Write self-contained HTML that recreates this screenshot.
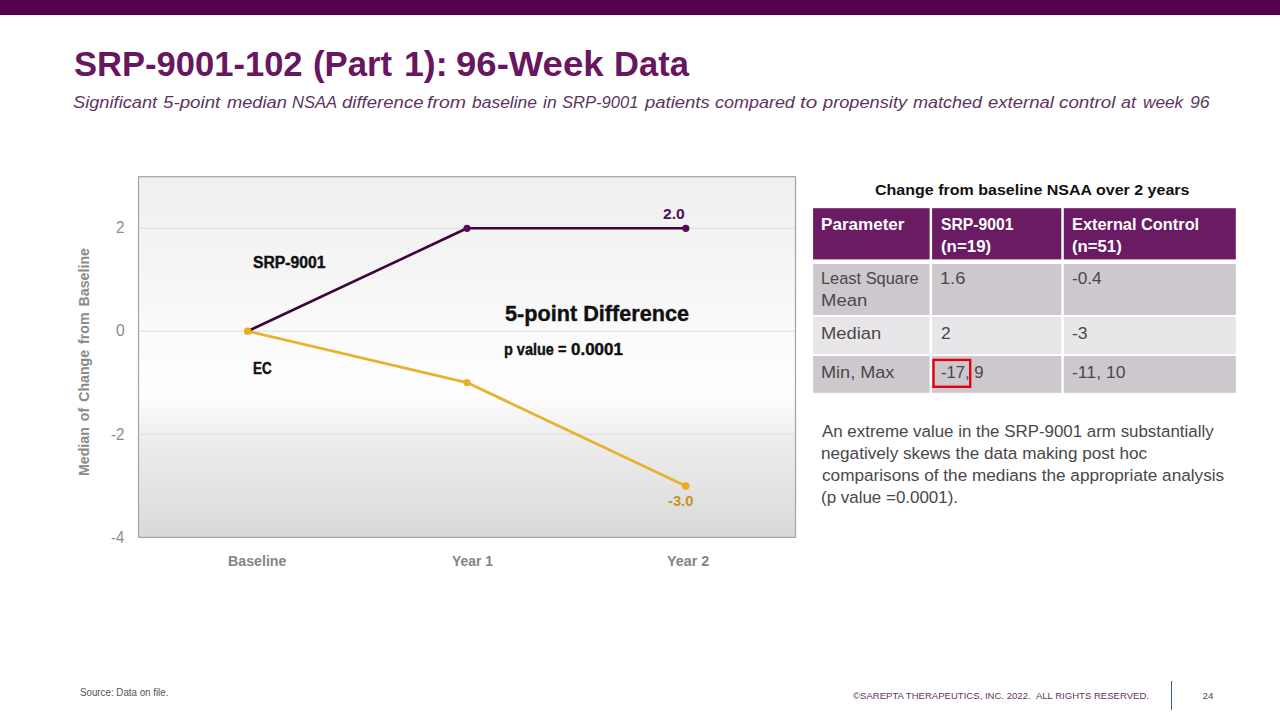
<!DOCTYPE html>
<html><head><meta charset="utf-8"><title>SRP-9001-102 (Part 1): 96-Week Data</title>
<style>
html,body{margin:0;padding:0;background:#fff;}
body{width:1280px;height:720px;position:relative;overflow:hidden;font-family:"Liberation Sans",sans-serif;}
.t{position:absolute;white-space:pre;line-height:1;transform-origin:0 0;font-family:"Liberation Sans",sans-serif;}
.b{position:absolute;}
.hd{background:#6b1b63;}
.ra{background:#cdc8cd;}
.rb{background:#e8e6e8;}
</style></head><body>
<div class="b" style="left:0;top:0;width:1280px;height:14.7px;background:#57004f"></div>

<!-- chart -->
<svg class="b" style="left:0;top:0" width="1280" height="720" viewBox="0 0 1280 720">
<defs>
<linearGradient id="pg" x1="0" y1="0" x2="0" y2="1">
<stop offset="0" stop-color="#efefef"/>
<stop offset="0.25" stop-color="#f5f5f5"/>
<stop offset="0.56" stop-color="#fefefe"/>
<stop offset="0.61" stop-color="#fdfdfd"/>
<stop offset="0.72" stop-color="#eeeeee"/>
<stop offset="1" stop-color="#d9d9d9"/>
</linearGradient>
</defs>
<rect x="138.5" y="176.7" width="657" height="360.6" fill="url(#pg)" stroke="#a3a3a3" stroke-width="1.2"/>
<g stroke="#dcdcdc" stroke-width="1">
<line x1="138.6" x2="795" y1="228.3" y2="228.3"/>
<line x1="138.6" x2="795" y1="331.2" y2="331.2"/>
<line x1="138.6" x2="795" y1="434.2" y2="434.2"/>
</g>
<polyline points="247.7,331.2 467,382.6 685.8,486" fill="none" stroke="#e8b22e" stroke-width="2.8" stroke-linejoin="round" stroke-linecap="round"/>
<polyline points="247.7,331.2 467,228.3 685.8,228.3" fill="none" stroke="#3b0639" stroke-width="2.6" stroke-linejoin="round" stroke-linecap="round"/>
<circle cx="467" cy="228.3" r="3.6" fill="#580a58"/>
<circle cx="685.8" cy="228.3" r="3.6" fill="#580a58"/>
<circle cx="247.7" cy="331.2" r="3.8" fill="#e9ae26"/>
<circle cx="467" cy="382.6" r="3.6" fill="#e9ae26"/>
<circle cx="685.8" cy="486" r="3.8" fill="#eeaa1e"/>
</svg>
<span id="yt" class="t" style="left:0;top:0;font-size:14.2px;font-weight:bold;color:#8a8a8a;word-spacing:2px;transform-origin:0 0;transform:translate(77px,476px) rotate(-90deg);">Median of Change from Baseline</span>

<!-- table -->
<svg class="b" style="left:0;top:0" width="1280" height="720">
<rect x="813.1" y="208.2" width="116.5" height="51.2" fill="#6b1b63"/>
<rect x="932.1" y="208.2" width="129.2" height="51.2" fill="#6b1b63"/>
<rect x="1063.8" y="208.2" width="172.0" height="51.2" fill="#6b1b63"/>
<rect x="813.1" y="264.0" width="116.5" height="51.0" fill="#cdc8cd"/>
<rect x="932.1" y="264.0" width="129.2" height="51.0" fill="#cdc8cd"/>
<rect x="1063.8" y="264.0" width="172.0" height="51.0" fill="#cdc8cd"/>
<rect x="813.1" y="316.9" width="116.5" height="37.3" fill="#e8e6e8"/>
<rect x="932.1" y="316.9" width="129.2" height="37.3" fill="#e8e6e8"/>
<rect x="1063.8" y="316.9" width="172.0" height="37.3" fill="#e8e6e8"/>
<rect x="813.1" y="356.0" width="116.5" height="36.8" fill="#cdc8cd"/>
<rect x="932.1" y="356.0" width="129.2" height="36.8" fill="#cdc8cd"/>
<rect x="1063.8" y="356.0" width="172.0" height="36.8" fill="#cdc8cd"/>
<rect x="933.5" y="359.9" width="36.7" height="26.9" fill="none" stroke="#e3000f" stroke-width="2.4"/>
</svg>

<!-- footer -->
<div class="b" style="left:1171px;top:680.6px;width:1.2px;height:29.4px;background:#3b6474"></div>

<span id="ti0" class="t" style="left:74.00px;top:47.00px;font-size:34.5px;font-weight:bold;font-style:normal;color:#68165f;transform:scaleX(1.0016);">SRP-9001-102</span>
<span id="ti1" class="t" style="left:313.44px;top:47.00px;font-size:34.5px;font-weight:bold;font-style:normal;color:#68165f;transform:scaleX(1.0065);">(Part</span>
<span id="ti2" class="t" style="left:403.98px;top:47.00px;font-size:34.5px;font-weight:bold;font-style:normal;color:#68165f;transform:scaleX(1.0329);">1):</span>
<span id="ti3" class="t" style="left:455.88px;top:47.00px;font-size:34.5px;font-weight:bold;font-style:normal;color:#68165f;transform:scaleX(1.0587);">96-Week</span>
<span id="ti4" class="t" style="left:614.35px;top:47.00px;font-size:34.5px;font-weight:bold;font-style:normal;color:#68165f;transform:scaleX(1.0007);">Data</span>
<span id="su0" class="t" style="left:73.21px;top:95.00px;font-size:16.8px;font-weight:normal;font-style:italic;color:#5b3560;transform:scaleX(1.0871);">Significant</span>
<span id="su1" class="t" style="left:163.19px;top:95.00px;font-size:16.8px;font-weight:normal;font-style:italic;color:#5b3560;transform:scaleX(1.1165);">5-point</span>
<span id="su2" class="t" style="left:227.23px;top:95.00px;font-size:16.8px;font-weight:normal;font-style:italic;color:#5b3560;transform:scaleX(1.0880);">median</span>
<span id="su3" class="t" style="left:292.01px;top:95.00px;font-size:16.8px;font-weight:normal;font-style:italic;color:#5b3560;transform:scaleX(0.9887);">NSAA</span>
<span id="su4" class="t" style="left:341.95px;top:95.00px;font-size:16.8px;font-weight:normal;font-style:italic;color:#5b3560;transform:scaleX(1.1065);">difference</span>
<span id="su5" class="t" style="left:426.92px;top:95.00px;font-size:16.8px;font-weight:normal;font-style:italic;color:#5b3560;transform:scaleX(1.1628);">from</span>
<span id="su6" class="t" style="left:471.74px;top:95.00px;font-size:16.8px;font-weight:normal;font-style:italic;color:#5b3560;transform:scaleX(1.0405);">baseline</span>
<span id="su7" class="t" style="left:543.49px;top:95.00px;font-size:16.8px;font-weight:normal;font-style:italic;color:#5b3560;transform:scaleX(1.0417);">in</span>
<span id="su8" class="t" style="left:562.01px;top:95.00px;font-size:16.8px;font-weight:normal;font-style:italic;color:#5b3560;transform:scaleX(0.9868);">SRP-9001</span>
<span id="su9" class="t" style="left:645.05px;top:95.00px;font-size:16.8px;font-weight:normal;font-style:italic;color:#5b3560;transform:scaleX(1.1017);">patients</span>
<span id="su10" class="t" style="left:714.96px;top:95.00px;font-size:16.8px;font-weight:normal;font-style:italic;color:#5b3560;transform:scaleX(1.0702);">compared</span>
<span id="su11" class="t" style="left:800.32px;top:95.00px;font-size:16.8px;font-weight:normal;font-style:italic;color:#5b3560;transform:scaleX(1.2353);">to</span>
<span id="su12" class="t" style="left:822.54px;top:95.00px;font-size:16.8px;font-weight:normal;font-style:italic;color:#5b3560;transform:scaleX(1.0857);">propensity</span>
<span id="su13" class="t" style="left:913.48px;top:95.00px;font-size:16.8px;font-weight:normal;font-style:italic;color:#5b3560;transform:scaleX(1.0736);">matched</span>
<span id="su14" class="t" style="left:988.20px;top:95.00px;font-size:16.8px;font-weight:normal;font-style:italic;color:#5b3560;transform:scaleX(1.1050);">external</span>
<span id="su15" class="t" style="left:1059.44px;top:95.00px;font-size:16.8px;font-weight:normal;font-style:italic;color:#5b3560;transform:scaleX(1.1194);">control</span>
<span id="su16" class="t" style="left:1121.46px;top:95.00px;font-size:16.8px;font-weight:normal;font-style:italic;color:#5b3560;transform:scaleX(1.0714);">at</span>
<span id="su17" class="t" style="left:1142.98px;top:95.00px;font-size:16.8px;font-weight:normal;font-style:italic;color:#5b3560;transform:scaleX(1.0256);">week</span>
<span id="su18" class="t" style="left:1190.46px;top:95.00px;font-size:16.8px;font-weight:normal;font-style:italic;color:#5b3560;transform:scaleX(1.0563);">96</span>
<span id="ttl" class="t" style="left:874.62px;top:182.00px;font-size:15.4px;font-weight:bold;font-style:normal;color:#111;transform:scaleX(1.0405);">Change from baseline NSAA over 2 years</span>
<span id="h1" class="t" style="left:821.25px;top:216.00px;font-size:16.3px;font-weight:bold;font-style:normal;color:#fff;transform:scaleX(1.0484);">Parameter</span>
<span id="h2a" class="t" style="left:940.82px;top:216.00px;font-size:16.3px;font-weight:bold;font-style:normal;color:#fff;transform:scaleX(0.9657);">SRP-9001</span>
<span id="h2b" class="t" style="left:940.82px;top:238.00px;font-size:16.3px;font-weight:bold;font-style:normal;color:#fff;transform:scaleX(1.0353);">(n=19)</span>
<span id="h3a" class="t" style="left:1072.00px;top:216.00px;font-size:16.3px;font-weight:bold;font-style:normal;color:#fff;transform:scaleX(1.0040);">External Control</span>
<span id="h3b" class="t" style="left:1072.43px;top:238.00px;font-size:16.3px;font-weight:bold;font-style:normal;color:#fff;transform:scaleX(1.0267);">(n=51)</span>
<span id="r1a" class="t" style="left:821.04px;top:270.00px;font-size:16.3px;font-weight:normal;font-style:normal;color:#4a474a;transform:scaleX(1.0074);">Least Square</span>
<span id="r1b" class="t" style="left:820.88px;top:292.00px;font-size:16.3px;font-weight:normal;font-style:normal;color:#4a474a;transform:scaleX(1.1351);">Mean</span>
<span id="r1c" class="t" style="left:939.90px;top:270.00px;font-size:16.3px;font-weight:normal;font-style:normal;color:#4a474a;transform:scaleX(1.1181);">1.6</span>
<span id="r1d" class="t" style="left:1072.21px;top:270.00px;font-size:16.3px;font-weight:normal;font-style:normal;color:#4a474a;transform:scaleX(1.0579);">-0.4</span>
<span id="r2a" class="t" style="left:820.89px;top:325.00px;font-size:16.3px;font-weight:normal;font-style:normal;color:#4a474a;transform:scaleX(1.1259);">Median</span>
<span id="r2c" class="t" style="left:940.70px;top:325.00px;font-size:16.3px;font-weight:normal;font-style:normal;color:#4a474a;transform:scaleX(1.0667);">2</span>
<span id="r2d" class="t" style="left:1072.19px;top:325.00px;font-size:16.3px;font-weight:normal;font-style:normal;color:#4a474a;transform:scaleX(1.0769);">-3</span>
<span id="r3a" class="t" style="left:820.91px;top:364.00px;font-size:16.3px;font-weight:normal;font-style:normal;color:#4a474a;transform:scaleX(1.1116);">Min, Max</span>
<span id="r3c" class="t" style="left:940.53px;top:364.00px;font-size:16.3px;font-weight:normal;font-style:normal;color:#4a474a;transform:scaleX(1.0236);">-17, 9</span>
<span id="r3d" class="t" style="left:1072.19px;top:364.00px;font-size:16.3px;font-weight:normal;font-style:normal;color:#4a474a;transform:scaleX(1.0833);">-11, 10</span>
<span id="p1" class="t" style="left:822.00px;top:423.00px;font-size:16.3px;font-weight:normal;font-style:normal;color:#4a474a;transform:scaleX(1.0377);">An extreme value in the SRP-9001 arm substantially</span>
<span id="p2" class="t" style="left:821.25px;top:445.00px;font-size:16.3px;font-weight:normal;font-style:normal;color:#4a474a;transform:scaleX(1.0534);">negatively skews the data making post hoc</span>
<span id="p3" class="t" style="left:821.51px;top:467.00px;font-size:16.3px;font-weight:normal;font-style:normal;color:#4a474a;transform:scaleX(1.0555);">comparisons of the medians the appropriate analysis</span>
<span id="p4" class="t" style="left:821.46px;top:489.00px;font-size:16.3px;font-weight:normal;font-style:normal;color:#4a474a;transform:scaleX(1.0406);">(p value =0.0001).</span>
<span id="src" class="t" style="left:79.51px;top:688.00px;font-size:10px;font-weight:normal;font-style:normal;color:#555;transform:scaleX(0.9759);">Source: Data on file.</span>
<span id="cpy" class="t" style="left:852.96px;top:691.00px;font-size:9.8px;font-weight:normal;font-style:normal;color:#5f3560;transform:scaleX(0.9749);">©SAREPTA THERAPEUTICS, INC. 2022.  ALL RIGHTS RESERVED.</span>
<span id="pg" class="t" style="left:1202.60px;top:691.00px;font-size:9.8px;font-weight:normal;font-style:normal;color:#5f3f62;transform:scaleX(1.0000);">24</span>
<span id="lsrp" class="t" style="left:252.75px;top:255.00px;font-size:15.8px;font-weight:bold;font-style:normal;color:#111;transform:scaleX(0.9959);-webkit-text-stroke:0.4px #111;">SRP-9001</span>
<span id="lec" class="t" style="left:252.66px;top:361.00px;font-size:15.8px;font-weight:bold;font-style:normal;color:#111;transform:scaleX(0.8524);-webkit-text-stroke:0.4px #111;">EC</span>
<span id="diff" class="t" style="left:504.62px;top:303.00px;font-size:22.5px;font-weight:bold;font-style:normal;color:#111;transform:scaleX(0.9624);-webkit-text-stroke:0.4px #111;">5-point Difference</span>
<span id="pv1" class="t" style="left:503.72px;top:341.00px;font-size:16.5px;font-weight:bold;font-style:normal;color:#111;transform:scaleX(0.8777);-webkit-text-stroke:0.4px #111;">p value =</span>
<span id="pv2" class="t" style="left:571.09px;top:341.00px;font-size:16.5px;font-weight:bold;font-style:normal;color:#111;transform:scaleX(1.0271);-webkit-text-stroke:0.4px #111;">0.0001</span>
<span id="d20" class="t" style="left:663.06px;top:207.00px;font-size:14.67px;font-weight:bold;font-style:normal;color:#4a1150;transform:scaleX(1.0701);">2.0</span>
<span id="d30" class="t" style="left:667.60px;top:494.00px;font-size:14.67px;font-weight:bold;font-style:normal;color:#c39426;transform:scaleX(1.0021);">-3.0</span>
<span id="y2" class="t" style="left:116.38px;top:220.00px;font-size:15.7px;font-weight:normal;font-style:normal;color:#8c8c8c;transform:scaleX(0.9655);">2</span>
<span id="y0" class="t" style="left:116.10px;top:323.00px;font-size:15.7px;font-weight:normal;font-style:normal;color:#8c8c8c;transform:scaleX(1.0000);">0</span>
<span id="ym2" class="t" style="left:111.27px;top:427.00px;font-size:15.7px;font-weight:normal;font-style:normal;color:#8c8c8c;transform:scaleX(0.9680);">-2</span>
<span id="ym4" class="t" style="left:111.29px;top:530.00px;font-size:15.7px;font-weight:normal;font-style:normal;color:#8c8c8c;transform:scaleX(0.9490);">-4</span>
<span id="xb" class="t" style="left:228.39px;top:554.00px;font-size:14px;font-weight:bold;font-style:normal;color:#858585;transform:scaleX(1.0143);">Baseline</span>
<span id="x1" class="t" style="left:452.25px;top:554.00px;font-size:14px;font-weight:bold;font-style:normal;color:#858585;transform:scaleX(0.9939);">Year 1</span>
<span id="x2" class="t" style="left:667.24px;top:554.00px;font-size:14px;font-weight:bold;font-style:normal;color:#858585;transform:scaleX(1.0247);">Year 2</span>
</body></html>
